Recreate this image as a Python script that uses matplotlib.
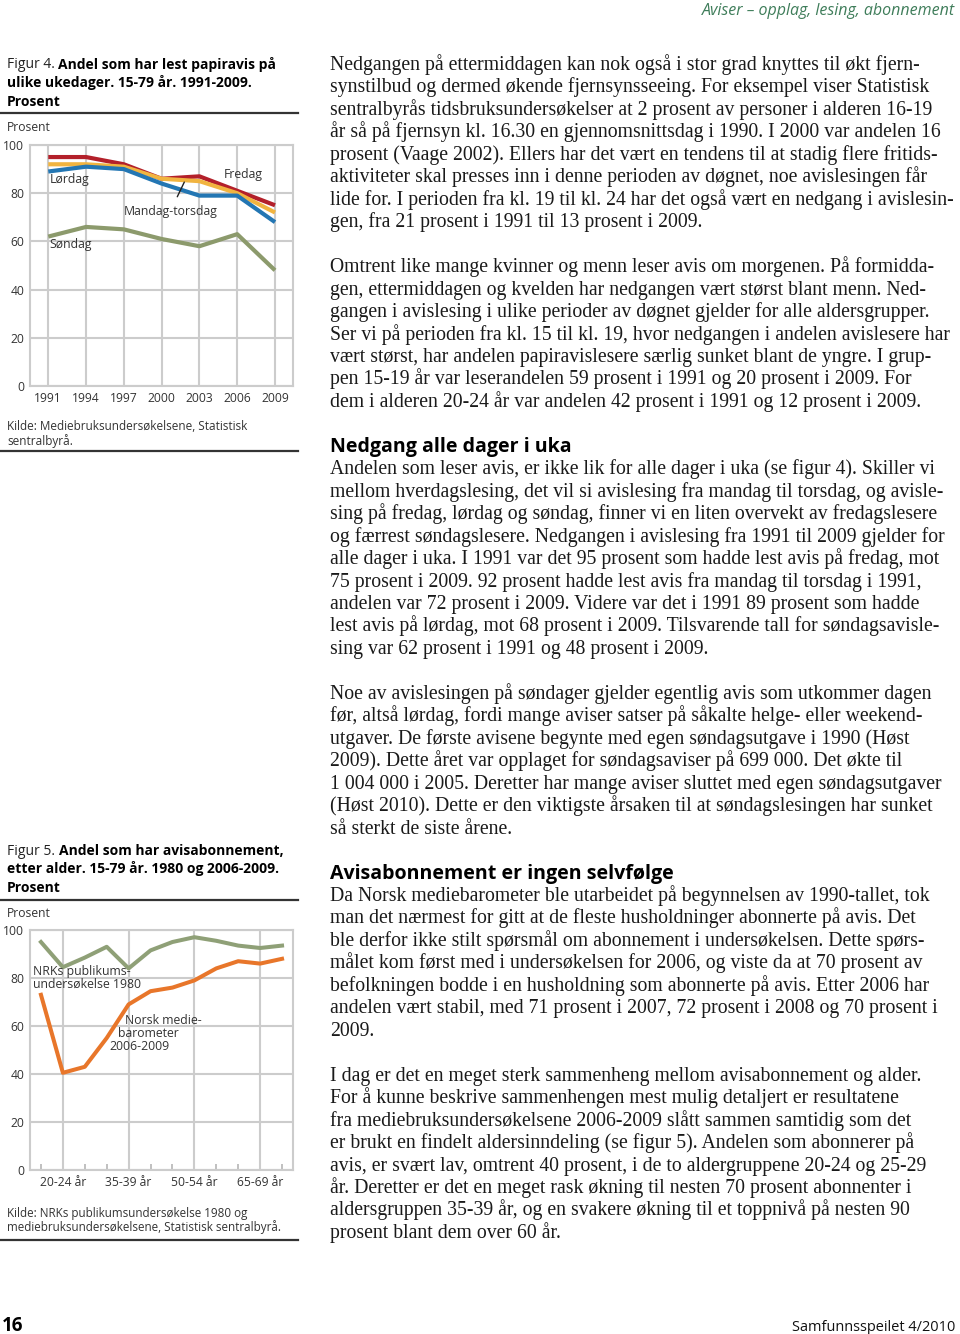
import matplotlib
matplotlib.use("Agg")
import matplotlib.pyplot as plt
from matplotlib.lines import Line2D

# Figur 4: andel som har lest papiravis, etter ukedag (prosent)
aar = [1991, 1994, 1997, 2000, 2003, 2006, 2009]
fredag = [95, 95, 92, 86, 87, 81, 75]
mandag_torsdag = [92, 92, 91, 86, 85, 80, 72]
lordag = [89, 91, 90, 84, 79, 79, 68]
sondag = [62, 66, 65, 61, 58, 63, 48]

# Figur 5: andel med avisabonnement, etter alder (prosent)
aldersgrupper = ["15-19 år", "20-24 år", "25-29 år", "30-34 år", "35-39 år", "40-44 år",
                 "45-49 år", "50-54 år", "55-59 år", "60-64 år", "65-69 år", "70-79 år"]
nrk_1980 = [95, 84.5, 88.5, 93, 84, 91.5, 95, 97, 95.5, 93.5, 92.5, 93.5]
mediebarometer = [73, 40.5, 43, 55, 69, 74.5, 76, 79, 84, 87, 86, 88]

# Brødtekst, linje for linje som i originalen
avsnitt = [
    ["Nedgangen på ettermiddagen kan nok også i stor grad knyttes til økt fjern-",
     "synstilbud og dermed økende fjernsynsseeing. For eksempel viser Statistisk",
     "sentralbyrås tidsbruksundersøkelser at 2 prosent av personer i alderen 16-19",
     "år så på fjernsyn kl. 16.30 en gjennomsnittsdag i 1990. I 2000 var andelen 16",
     "prosent (Vaage 2002). Ellers har det vært en tendens til at stadig flere fritids-",
     "aktiviteter skal presses inn i denne perioden av døgnet, noe avislesingen får",
     "lide for. I perioden fra kl. 19 til kl. 24 har det også vært en nedgang i avislesin-",
     "gen, fra 21 prosent i 1991 til 13 prosent i 2009."],
    ["Omtrent like mange kvinner og menn leser avis om morgenen. På formidda-",
     "gen, ettermiddagen og kvelden har nedgangen vært størst blant menn. Ned-",
     "gangen i avislesing i ulike perioder av døgnet gjelder for alle aldersgrupper.",
     "Ser vi på perioden fra kl. 15 til kl. 19, hvor nedgangen i andelen avislesere har",
     "vært størst, har andelen papiravislesere særlig sunket blant de yngre. I grup-",
     "pen 15-19 år var leserandelen 59 prosent i 1991 og 20 prosent i 2009. For",
     "dem i alderen 20-24 år var andelen 42 prosent i 1991 og 12 prosent i 2009."],
    ["#Nedgang alle dager i uka",
     "Andelen som leser avis, er ikke lik for alle dager i uka (se figur 4). Skiller vi",
     "mellom hverdagslesing, det vil si avislesing fra mandag til torsdag, og avisle-",
     "sing på fredag, lørdag og søndag, finner vi en liten overvekt av fredagslesere",
     "og færrest søndagslesere. Nedgangen i avislesing fra 1991 til 2009 gjelder for",
     "alle dager i uka. I 1991 var det 95 prosent som hadde lest avis på fredag, mot",
     "75 prosent i 2009. 92 prosent hadde lest avis fra mandag til torsdag i 1991,",
     "andelen var 72 prosent i 2009. Videre var det i 1991 89 prosent som hadde",
     "lest avis på lørdag, mot 68 prosent i 2009. Tilsvarende tall for søndagsavisle-",
     "sing var 62 prosent i 1991 og 48 prosent i 2009."],
    ["Noe av avislesingen på søndager gjelder egentlig avis som utkommer dagen",
     "før, altså lørdag, fordi mange aviser satser på såkalte helge- eller weekend-",
     "utgaver. De første avisene begynte med egen søndagsutgave i 1990 (Høst",
     "2009). Dette året var opplaget for søndagsaviser på 699\u00a0000. Det økte til",
     "1\u00a0004\u00a0000 i 2005. Deretter har mange aviser sluttet med egen søndagsutgaver",
     "(Høst 2010). Dette er den viktigste årsaken til at søndagslesingen har sunket",
     "så sterkt de siste årene."],
    ["#Avisabonnement er ingen selvfølge",
     "Da Norsk mediebarometer ble utarbeidet på begynnelsen av 1990-tallet, tok",
     "man det nærmest for gitt at de fleste husholdninger abonnerte på avis. Det",
     "ble derfor ikke stilt spørsmål om abonnement i undersøkelsen. Dette spørs-",
     "målet kom først med i undersøkelsen for 2006, og viste da at 70 prosent av",
     "befolkningen bodde i en husholdning som abonnerte på avis. Etter 2006 har",
     "andelen vært stabil, med 71 prosent i 2007, 72 prosent i 2008 og 70 prosent i",
     "2009."],
    ["I dag er det en meget sterk sammenheng mellom avisabonnement og alder.",
     "For å kunne beskrive sammenhengen mest mulig detaljert er resultatene",
     "fra mediebruksundersøkelsene 2006-2009 slått sammen samtidig som det",
     "er brukt en findelt aldersinndeling (se figur 5). Andelen som abonnerer på",
     "avis, er svært lav, omtrent 40 prosent, i de to aldergruppene 20-24 og 25-29",
     "år. Deretter er det en meget rask økning til nesten 70 prosent abonnenter i",
     "aldersgruppen 35-39 år, og en svakere økning til et toppnivå på nesten 90",
     "prosent blant dem over 60 år."],
]

W, H = 960, 1334
SANS = "Open Sans"
SERIF = "Liberation Serif"
GRAA = "#cccccc"
TXT = "#333333"

fig = plt.figure(figsize=(W / 100, H / 100), dpi=100)
fig.patch.set_facecolor("white")
renderer = fig.canvas.get_renderer()


def fx(x):
    return x / W


def fy(y):
    return 1 - y / H


def tekst(x, y, s, **kw):
    kw.setdefault("va", "baseline")
    return fig.text(fx(x), fy(y), s, **kw)


def bredde(s, **kw):
    t = fig.text(0, 0, s, **kw)
    w = t.get_window_extent(renderer).width
    t.remove()
    return w


def tilpass(s, maal, **kw):
    # fontstørrelse som gir ønsket bredde i piksler
    return 10 * maal / bredde(s, fontsize=10, **kw)


def strek(y, x0=0, x1=298, lw=1.6):
    fig.add_artist(Line2D([fx(x0), fx(x1)], [fy(y), fy(y)], color="#333333", lw=lw))


def figurtittel(y0, nr, linjer):
    fs = tilpass("ulike ukedager. 15-79 år. 1991-2009.", 245, family=SANS, weight="bold")
    pre = "Figur %d. " % nr
    tekst(7, y0, pre, family=SANS, fontsize=fs, color="#222222")
    dx = bredde(pre, family=SANS, fontsize=fs)
    tekst(7 + dx, y0, linjer[0], family=SANS, fontsize=fs, weight="bold", color="black")
    for i, l in enumerate(linjer[1:]):
        tekst(7, y0 + 18.5 * (i + 1), l, family=SANS, fontsize=fs, weight="bold", color="black")


def stil_akse(ax):
    for s in ax.spines.values():
        s.set_color(GRAA)
        s.set_linewidth(1.5)
    ax.grid(True, color=GRAA, lw=1.5)
    ax.set_axisbelow(True)
    ax.tick_params(length=0, labelsize=8.7, colors=TXT, pad=4)
    for lab in ax.get_xticklabels() + ax.get_yticklabels():
        lab.set_family(SANS)
    ax.set_ylim(0, 100)
    ax.set_yticks([0, 20, 40, 60, 80, 100])


# ---------- topptekst og bunntekst ----------
tekst(955, 15, "Aviser – opplag, lesing, abonnement", ha="right", family=SANS, style="italic",
      fontsize=tilpass("Aviser – opplag, lesing, abonnement", 253, family=SANS, style="italic"),
      color="#3f7d5a")
tekst(2, 1331, "16", family=SANS, weight="bold", fontsize=13.5, color="black")
tekst(955, 1331, "Samfunnsspeilet 4/2010", ha="right", family=SANS,
      fontsize=tilpass("Samfunnsspeilet 4/2010", 163, family=SANS), color="#111111")

# ---------- Figur 4 ----------
figurtittel(68.5, 4, ["Andel som har lest papiravis på", "ulike ukedager. 15-79 år. 1991-2009.", "Prosent"])
strek(112.5)
tekst(7, 131, "Prosent", family=SANS, fontsize=8.7, color=TXT)

ax4 = fig.add_axes([fx(30), fy(386), 263 / W, 241 / H])
ax4.plot(aar, sondag, color="#8c9a6c", lw=3, solid_capstyle="butt")
ax4.plot(aar, fredag, color="#b3202a", lw=3, solid_capstyle="butt")
ax4.plot(aar, mandag_torsdag, color="#f1b440", lw=3, solid_capstyle="butt")
ax4.plot(aar, lordag, color="#2376b3", lw=3, solid_capstyle="butt")
ax4.set_xlim(1989.55, 2010.43)
ax4.set_xticks(aar)
stil_akse(ax4)
ax4.set_xticklabels([str(a) for a in aar])
for lab in ax4.get_xticklabels():
    lab.set_family(SANS)
ax4.text(1991.1, 85.5, "Lørdag", family=SANS, fontsize=8.8, color=TXT, va="center")
ax4.text(2004.9, 87.6, "Fredag", family=SANS, fontsize=8.8, color=TXT, va="center")
ax4.text(1991.1, 58.9, "Søndag", family=SANS, fontsize=8.8, color=TXT, va="center")
ax4.annotate("Mandag-torsdag", xy=(2001.8, 84.6), xytext=(2000.7, 72.6),
             family=SANS, fontsize=8.8, color=TXT, ha="center", va="center",
             arrowprops=dict(arrowstyle="-", color="#222222", lw=1, shrinkA=4, shrinkB=0))

tekst(7, 430.5, "Kilde: Mediebruksundersøkelsene, Statistisk", family=SANS, fontsize=8.5, color=TXT)
tekst(7, 444.5, "sentralbyrå.", family=SANS, fontsize=8.5, color=TXT)
strek(451)

# ---------- Figur 5 ----------
figurtittel(855, 5, ["Andel som har avisabonnement,", "etter alder. 15-79 år. 1980 og 2006-2009.", "Prosent"])
strek(899.5)
tekst(7, 917, "Prosent", family=SANS, fontsize=8.7, color=TXT)

ax5 = fig.add_axes([fx(30), fy(1170), 263 / W, 240 / H])
x5 = list(range(len(aldersgrupper)))
ax5.plot(x5, nrk_1980, color="#8fa077", lw=2.9)
ax5.plot(x5, mediebarometer, color="#e8762a", lw=2.9)
ax5.set_xlim(-0.5, 11.5)
vis = [1, 4, 7, 10]
ax5.set_xticks(vis)
ax5.set_xticks([i for i in x5 if i not in vis], minor=True)
stil_akse(ax5)
ax5.set_xticklabels([aldersgrupper[i] for i in vis])
for lab in ax5.get_xticklabels():
    lab.set_family(SANS)
ax5.tick_params(axis="x", which="minor", direction="in", length=4, width=1.3, color="#bbbbbb")
ax5.text(-0.36, 80.2, "NRKs publikums-\nundersøkelse 1980", family=SANS, fontsize=8.8,
         color=TXT, va="center", linespacing=0.95)
ax5.text(3.82, 62.1, "Norsk medie-", family=SANS, fontsize=8.8, color=TXT, va="center")
ax5.text(3.5, 56.7, "barometer", family=SANS, fontsize=8.8, color=TXT, va="center")
ax5.text(3.14, 51.5, "2006-2009", family=SANS, fontsize=8.8, color=TXT, va="center")

tekst(7, 1216.5, "Kilde: NRKs publikumsundersøkelse 1980 og", family=SANS, fontsize=8.4, color=TXT)
tekst(7, 1230.5, "mediebruksundersøkelsene, Statistisk sentralbyrå.", family=SANS, fontsize=8.4, color=TXT)
strek(1239.5)

# ---------- brødtekst ----------
alle = [l for blokk in avsnitt for l in blokk if not l.startswith("#")]
lengst = max(alle, key=lambda l: bredde(l, family=SERIF, fontsize=10))
fs_br = tilpass(lengst, 623, family=SERIF)
fs_ov = tilpass("Nedgang alle dager i uka", 243, family=SANS, weight="bold")
linjeavstand = 22.46
n = 0
for blokk in avsnitt:
    for linje in blokk:
        y = 70 + n * linjeavstand
        if linje.startswith("#"):
            tekst(330, y, linje[1:], family=SANS, weight="bold", fontsize=fs_ov, color="black")
        else:
            tekst(330, y, linje, family=SERIF, fontsize=fs_br, color="#1a1a1a")
        n += 1
    n += 1

fig.savefig("out.png", dpi=100, facecolor="white")
